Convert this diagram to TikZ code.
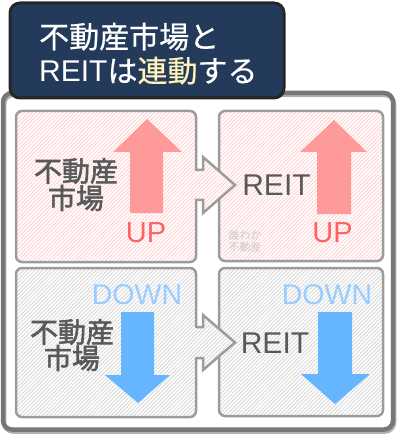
\documentclass[tikz,border=0pt]{standalone}
\usepackage{fontspec}
\setmainfont{Liberation Sans}
\newfontfamily\jp{Noto Sans CJK JP}
\newfontfamily\jpt[FakeBold=0.6]{Noto Sans CJK JP}
\newfontfamily\jpb[FakeBold=2]{Noto Sans CJK JP}
\usetikzlibrary{patterns.meta}
\definecolor{navy}{HTML}{243A5A}
\definecolor{framegray}{HTML}{767676}
\definecolor{shadowgray}{HTML}{B0B0B0}
\definecolor{cellgray}{HTML}{9C9C9C}
\definecolor{txtgray}{HTML}{595959}
\definecolor{hlyellow}{HTML}{FFF2B8}
\definecolor{pinkhatch}{HTML}{FFCFCF}
\definecolor{grayhatch}{HTML}{D6D6D6}
\definecolor{uparrow}{HTML}{FF9A9A}
\definecolor{uptext}{HTML}{FF6262}
\definecolor{downarrow}{HTML}{66B5FF}
\definecolor{downtext}{HTML}{99CCFF}
\tikzset{
  cellbox/.style={draw=cellgray, line width=2.5pt, rounded corners=6pt},
  pinkfill/.style={pattern={Lines[angle=45,distance=2.7pt,line width=0.8pt]}, pattern color=pinkhatch},
  grayfill/.style={pattern={Lines[angle=45,distance=2.7pt,line width=0.8pt]}, pattern color=grayhatch},
  jplabel/.style={inner sep=0pt, text=txtgray, font={\jpb\fontsize{28}{28}\selectfont}},
  reitlabel/.style={inner sep=0pt, text=txtgray, font={\fontsize{30}{30}\selectfont}},
  uplabel/.style={inner sep=0pt, text=uptext, font={\fontsize{29}{29}\selectfont}},
  downlabel/.style={inner sep=0pt, text=downtext, font={\fontsize{28.5}{28.5}\selectfont}},
  titleline/.style={inner sep=0pt, text=white, anchor=base west, font={\fontsize{30}{30}\selectfont}},
  connline/.style={draw=cellgray, line width=2.5pt, line join=miter},
}
\begin{document}
\begin{tikzpicture}[x=1pt,y=-1pt]
\useasboundingbox (0,0) rectangle (400,435);
% outer frame with slight shadow
\draw[shadowgray, line width=4.5pt, rounded corners=9pt] (4,95) rectangle (394,431.5);
\draw[framegray, line width=4.5pt, rounded corners=9pt] (3,93) rectangle (393,429.5);
% title box
\draw[fill=navy, draw=black!85, line width=3pt, rounded corners=10pt] (10,3) rectangle (284,98);
\node[titleline] (t1) at (39,48) {\jpt 不動産市場と};
\node[titleline] (t2) at (39,82) {REIT{\jpt は\textcolor{hlyellow}{連動}する}};
% cells
\fill[white, rounded corners=6pt] (16,111) rectangle (196,262);
\fill[pinkfill, rounded corners=6pt] (16,111) rectangle (196,262);
\draw[cellbox] (16,111) rectangle (196,262);
\fill[white, rounded corners=6pt] (219,111) rectangle (383,261);
\fill[pinkfill, rounded corners=6pt] (219,111) rectangle (383,261);
\draw[cellbox] (219,111) rectangle (383,261);
\fill[white, rounded corners=6pt] (16,268) rectangle (196,417);
\fill[grayfill, rounded corners=6pt] (16,268) rectangle (196,417);
\draw[cellbox] (16,268) rectangle (196,417);
\fill[white, rounded corners=6pt] (219,268) rectangle (383,416);
\fill[grayfill, rounded corners=6pt] (219,268) rectangle (383,416);
\draw[cellbox] (219,268) rectangle (383,416);
% connector arrows
\fill[white] (193,171.2) -- (203,171.2) -- (203,157) -- (235,185) -- (203,213) -- (203,198.8) -- (193,198.8) -- cycle;
\fill[pinkfill] (193,171.2) -- (203,171.2) -- (203,157) -- (235,185) -- (203,213) -- (203,198.8) -- (193,198.8) -- cycle;
\draw[connline] (196,170) -- (203,170) -- (203,157) -- (235,185) -- (203,213) -- (203,200) -- (196,200);
\fill[white] (193,328.2) -- (203,328.2) -- (203,315) -- (235,342.5) -- (203,370) -- (203,356.8) -- (193,356.8) -- cycle;
\fill[grayfill] (193,328.2) -- (203,328.2) -- (203,315) -- (235,342.5) -- (203,370) -- (203,356.8) -- (193,356.8) -- cycle;
\draw[connline] (196,327) -- (203,327) -- (203,315) -- (235,342.5) -- (203,370) -- (203,358) -- (196,358);
% up / down arrows
\fill[uparrow] (130,213) -- (130,152) -- (113,152) -- (147,119) -- (182,152) -- (163,152) -- (163,213) -- cycle;
\fill[uparrow] (317,214) -- (317,152) -- (300,152) -- (334,120) -- (367,152) -- (351,152) -- (351,214) -- cycle;
\fill[downarrow] (121,312) -- (121,375) -- (105,375) -- (138,403) -- (170,375) -- (154,375) -- (154,312) -- cycle;
\fill[downarrow] (318,312) -- (318,374) -- (301,374) -- (335,404) -- (370,374) -- (352,374) -- (352,312) -- cycle;
% labels
\node[jplabel] (a1) at (76,171) {不動産};
\node[jplabel] (a2) at (76,198) {市場};
\node[uplabel] (u1) at (146,233) {UP};
\node[reitlabel] (r1) at (276.5,185) {REIT};
\node[uplabel] (u2) at (332.5,233) {UP};
\node[inner sep=0pt, text=black!20, font={\jp\fontsize{11}{11}\selectfont}] (w1) at (245,235) {誰わか};
\node[inner sep=0pt, text=black!20, font={\jp\fontsize{11}{11}\selectfont}] (w2) at (245,247) {不動産};
\node[downlabel] (d1) at (137,295) {DOWN};
\node[jplabel] (b1) at (72,332) {不動産};
\node[jplabel] (b2) at (72,358) {市場};
\node[downlabel] (d2) at (327,295) {DOWN};
\node[reitlabel] (r2) at (275,343) {REIT};
\end{tikzpicture}
\end{document}
